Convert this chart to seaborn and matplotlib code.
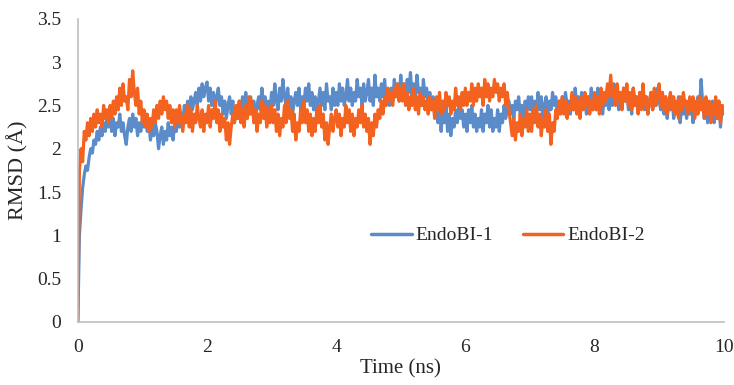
import numpy as np
import pandas as pd
import matplotlib
matplotlib.use("Agg")
import matplotlib.pyplot as plt
import seaborn as sns

series_names = ["EndoBI-1", "EndoBI-2"]
time_end_ns = 10.0

endobi1 = [
    0, 1.0, 1.3, 1.55, 1.7, 1.8, 1.75, 1.9, 2.0, 1.95, 2.1, 2.05, 2.2, 2.1, 2.25, 2.15, 2.3, 2.2, 2.35, 2.25,
    2.4, 2.2, 2.35, 2.15, 2.3, 2.25, 2.4, 2.2, 2.3, 2.15, 2.05, 2.25, 2.35, 2.2, 2.4, 2.25, 2.35, 2.15, 2.3, 2.2,
    2.35, 2.25, 2.4, 2.2, 2.3, 2.1, 2.25, 2.15, 2.3, 2.2, 2.0, 2.15, 2.25, 2.05, 2.2, 2.1, 2.3, 2.15, 2.25, 2.1,
    2.3, 2.2, 2.35, 2.25, 2.4, 2.3, 2.5, 2.35, 2.55, 2.4, 2.6, 2.45, 2.55, 2.65, 2.5, 2.7, 2.55, 2.75, 2.6, 2.7,
    2.77, 2.55, 2.7, 2.5, 2.65, 2.45, 2.6, 2.7, 2.5, 2.6, 2.4, 2.55, 2.35, 2.5, 2.6, 2.4, 2.55, 2.3, 2.45, 2.35,
    2.55, 2.4, 2.6, 2.45, 2.65, 2.5, 2.4, 2.6, 2.45, 2.55, 2.35, 2.5, 2.6, 2.45, 2.7, 2.5, 2.6, 2.4, 2.55, 2.45,
    2.65, 2.5, 2.75, 2.55, 2.45, 2.7, 2.55, 2.8, 2.6, 2.5, 2.7, 2.45, 2.6, 2.4, 2.55, 2.65, 2.5, 2.7, 2.45, 2.6,
    2.5, 2.7, 2.55, 2.75, 2.5, 2.65, 2.45, 2.6, 2.4, 2.55, 2.7, 2.5, 2.65, 2.45, 2.75, 2.55, 2.6, 2.45, 2.7, 2.5,
    2.65, 2.5, 2.75, 2.55, 2.7, 2.5, 2.6, 2.8, 2.55, 2.7, 2.5, 2.65, 2.55, 2.8, 2.6, 2.7, 2.5, 2.75, 2.55, 2.65,
    2.8, 2.55, 2.7, 2.5, 2.85, 2.6, 2.7, 2.55, 2.75, 2.6, 2.8, 2.55, 2.65, 2.5, 2.7, 2.55, 2.8, 2.6, 2.75, 2.55,
    2.85, 2.6, 2.75, 2.55, 2.8, 2.65, 2.88, 2.6, 2.75, 2.55, 2.85, 2.65, 2.7, 2.5, 2.8, 2.6, 2.7, 2.5, 2.65, 2.45,
    2.6, 2.4, 2.55, 2.3, 2.5, 2.2, 2.45, 2.3, 2.5, 2.2, 2.4, 2.15, 2.35, 2.25, 2.45, 2.3, 2.5, 2.35, 2.45, 2.25,
    2.4, 2.2, 2.45, 2.3, 2.5, 2.25, 2.4, 2.2, 2.35, 2.25, 2.45, 2.2, 2.4, 2.3, 2.5, 2.25, 2.45, 2.2, 2.35, 2.25,
    2.45, 2.2, 2.4, 2.3, 2.5, 2.35, 2.45, 2.55, 2.4, 2.5, 2.35, 2.55, 2.45, 2.6, 2.4, 2.5, 2.35, 2.55, 2.45, 2.6,
    2.45, 2.6, 2.35, 2.55, 2.4, 2.65, 2.45, 2.6, 2.35, 2.5, 2.6, 2.4, 2.55, 2.45, 2.65, 2.5, 2.6, 2.4, 2.55, 2.45,
    2.6, 2.45, 2.65, 2.5, 2.55, 2.4, 2.6, 2.45, 2.7, 2.5, 2.6, 2.45, 2.65, 2.5, 2.55, 2.4, 2.6, 2.5, 2.7, 2.45,
    2.6, 2.45, 2.7, 2.5, 2.65, 2.4, 2.6, 2.5, 2.7, 2.45, 2.6, 2.5, 2.75, 2.55, 2.65, 2.45, 2.6, 2.5, 2.7, 2.55,
    2.65, 2.45, 2.6, 2.4, 2.7, 2.5, 2.6, 2.45, 2.65, 2.5, 2.7, 2.45, 2.6, 2.4, 2.55, 2.65, 2.45, 2.6, 2.5, 2.7,
    2.55, 2.45, 2.65, 2.4, 2.6, 2.35, 2.55, 2.45, 2.6, 2.35, 2.5, 2.4, 2.6, 2.3, 2.5, 2.4, 2.55, 2.35, 2.5, 2.4,
    2.55, 2.3, 2.5, 2.4, 2.6, 2.45, 2.8, 2.5, 2.35, 2.55, 2.3, 2.5, 2.4, 2.55, 2.3, 2.45, 2.35, 2.55, 2.25, 2.5,
    2.4,
]

endobi2 = [
    0, 1.75, 2.0, 1.85, 2.2, 2.1, 2.3, 2.15, 2.35, 2.2, 2.4, 2.25, 2.45, 2.3, 2.4, 2.25, 2.5, 2.35, 2.45, 2.3,
    2.5, 2.35, 2.55, 2.4, 2.6, 2.45, 2.7, 2.5, 2.75, 2.55, 2.6, 2.45, 2.8, 2.6, 2.9, 2.65, 2.5, 2.7, 2.4, 2.55,
    2.3, 2.45, 2.25, 2.4, 2.2, 2.35, 2.25, 2.45, 2.3, 2.5, 2.35, 2.55, 2.4, 2.6, 2.45, 2.55, 2.35, 2.5, 2.3, 2.45,
    2.25, 2.45, 2.3, 2.5, 2.35, 2.2, 2.4, 2.3, 2.5, 2.25, 2.45, 2.2, 2.4, 2.3, 2.5, 2.35, 2.25, 2.45, 2.2, 2.4,
    2.3, 2.5, 2.25, 2.45, 2.35, 2.55, 2.3, 2.45, 2.2, 2.4, 2.25, 2.35, 2.1, 2.3, 2.05, 2.25, 2.4, 2.3, 2.5, 2.35,
    2.55, 2.3, 2.45, 2.25, 2.5, 2.35, 2.6, 2.4, 2.55, 2.3, 2.45, 2.2, 2.4, 2.3, 2.55, 2.35, 2.5, 2.25, 2.45, 2.3,
    2.5, 2.3, 2.45, 2.2, 2.4, 2.15, 2.35, 2.25, 2.5, 2.3, 2.55, 2.35, 2.45, 2.2, 2.4, 2.1, 2.3, 2.2, 2.45, 2.3,
    2.55, 2.3, 2.45, 2.2, 2.4, 2.15, 2.35, 2.2, 2.45, 2.3, 2.5, 2.25, 2.4, 2.1, 2.3, 2.05, 2.25, 2.4, 2.2, 2.35,
    2.45, 2.25, 2.4, 2.15, 2.35, 2.25, 2.5, 2.3, 2.45, 2.2, 2.4, 2.15, 2.35, 2.25, 2.45, 2.3, 2.5, 2.25, 2.4, 2.2,
    2.35, 2.05, 2.3, 2.15, 2.4, 2.25, 2.45, 2.35, 2.55, 2.4, 2.6, 2.5, 2.7, 2.55, 2.65, 2.5, 2.7, 2.6, 2.75, 2.55,
    2.7, 2.55, 2.75, 2.5, 2.65, 2.45, 2.6, 2.5, 2.7, 2.45, 2.6, 2.4, 2.65, 2.5, 2.6, 2.45, 2.55, 2.4, 2.6, 2.45,
    2.55, 2.35, 2.6, 2.45, 2.65, 2.4, 2.55, 2.45, 2.65, 2.5, 2.6, 2.4, 2.55, 2.45, 2.7, 2.5, 2.6, 2.45, 2.65, 2.5,
    2.7, 2.5, 2.65, 2.55, 2.75, 2.5, 2.7, 2.55, 2.75, 2.6, 2.7, 2.5, 2.8, 2.6, 2.75, 2.55, 2.7, 2.6, 2.8, 2.65,
    2.75, 2.55, 2.7, 2.6, 2.75, 2.5, 2.65, 2.45, 2.3, 2.15, 2.35, 2.1, 2.3, 2.2, 2.4, 2.15, 2.35, 2.25, 2.45, 2.2,
    2.4, 2.2, 2.45, 2.3, 2.5, 2.25, 2.4, 2.15, 2.35, 2.25, 2.45, 2.2, 2.4, 2.05, 2.3, 2.2, 2.45, 2.35, 2.55, 2.4,
    2.6, 2.4, 2.55, 2.35, 2.5, 2.45, 2.65, 2.45, 2.6, 2.4, 2.55, 2.35, 2.6, 2.45, 2.65, 2.5, 2.6, 2.4, 2.55, 2.45,
    2.65, 2.45, 2.6, 2.4, 2.7, 2.5, 2.65, 2.55, 2.75, 2.6, 2.85, 2.6, 2.7, 2.5, 2.75, 2.55, 2.65, 2.45, 2.7, 2.55,
    2.75, 2.5, 2.65, 2.45, 2.7, 2.5, 2.6, 2.4, 2.65, 2.45, 2.75, 2.5, 2.6, 2.4, 2.55, 2.65, 2.45, 2.7, 2.5, 2.6,
    2.75, 2.5, 2.65, 2.45, 2.6, 2.4, 2.55, 2.65, 2.45, 2.6, 2.4, 2.55, 2.35, 2.6, 2.45, 2.65, 2.5, 2.55, 2.4, 2.6,
    2.45, 2.6, 2.35, 2.55, 2.4, 2.6, 2.45, 2.55, 2.35, 2.6, 2.4, 2.55, 2.3, 2.5, 2.4, 2.6, 2.35, 2.55, 2.3, 2.5,
    2.45,
]

x_ticks = [0, 2, 4, 6, 8, 10]
y_ticks = [0, 0.5, 1, 1.5, 2, 2.5, 3, 3.5]
x_label = "Time (ns)"
y_label = "RMSD (Å)"
colors = {"EndoBI-1": "#5B8BC9", "EndoBI-2": "#F4621F"}

time1 = np.linspace(0, time_end_ns, len(endobi1))
time2 = np.linspace(0, time_end_ns, len(endobi2))
df = pd.concat([
    pd.DataFrame({"Time": time1, "RMSD": endobi1, "Series": series_names[0]}),
    pd.DataFrame({"Time": time2, "RMSD": endobi2, "Series": series_names[1]}),
], ignore_index=True)

sns.set_style("white")
plt.rcParams["font.family"] = ["Liberation Serif", "DejaVu Serif"]

fig = plt.figure(figsize=(7.34, 3.85), dpi=100)
ax = fig.add_axes([0.106, 0.164, 0.880, 0.787])

sns.lineplot(data=df, x="Time", y="RMSD", hue="Series", palette=colors,
             linewidth=2.3, ax=ax, legend=True)

ax.set_xlim(0, 10)
ax.set_ylim(0, 3.5)
ax.set_xticks(x_ticks)
ax.set_xticklabels([str(v) for v in x_ticks])
ax.set_yticks(y_ticks)
ax.set_yticklabels([f"{v:g}" for v in y_ticks])
ax.tick_params(axis="both", length=0, pad=12, labelsize=14, colors="#262626")

for side in ["top", "right"]:
    ax.spines[side].set_visible(False)
for side in ["left", "bottom"]:
    ax.spines[side].set_color("#BFBFBF")
    ax.spines[side].set_linewidth(1.2)

ax.set_xlabel(x_label, fontsize=15, color="#262626", labelpad=3)
ax.set_ylabel(y_label, fontsize=16, color="#262626", labelpad=6)

handles, labels = ax.get_legend_handles_labels()
leg = ax.legend(handles, labels, loc="center", bbox_to_anchor=(0.666, 0.285),
                ncol=2, frameon=False, fontsize=14, handlelength=2.1,
                handletextpad=0.2, columnspacing=1.5)
for line in leg.get_lines():
    line.set_linewidth(2.5)

fig.savefig("out.png", dpi=100)
